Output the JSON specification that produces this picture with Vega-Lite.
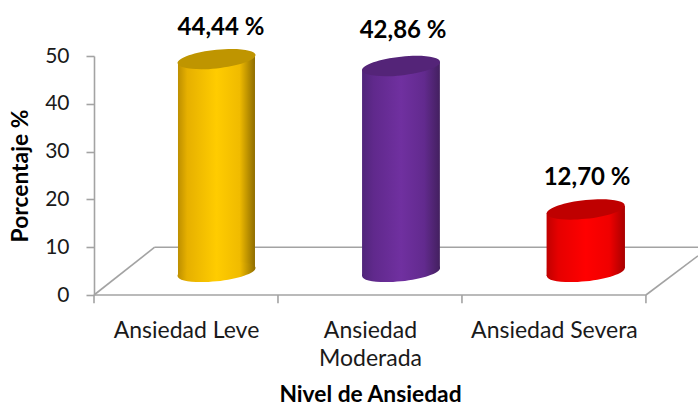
{
"$schema":"https://vega.github.io/schema/vega-lite/v6.json",
"autosize":{"type":"none"},
"padding":{"left":94,"top":56,"right":0,"bottom":111},
"width":604,"height":239,
"background":"white",
"config":{"view":{"stroke":null},"font":"Lato"},
"datasets":{
"suelo":[
{"borde":"frente","px":0,"py":0},{"borde":"frente","px":3,"py":0},
{"borde":"fondo","px":0.33,"py":10},{"borde":"fondo","px":3.283,"py":10},
{"borde":"izquierda","px":0,"py":0},{"borde":"izquierda","px":0.33,"py":10},
{"borde":"derecha","px":3,"py":0},{"borde":"derecha","px":3.283,"py":8.2}],
"marcasx":[{"px":0,"py":0,"py2":-1.7},{"px":1,"py":0,"py2":-1.7},{"px":2,"py":0,"py2":-1.7},{"px":3,"py":0,"py2":-1.7}],
"cuerpo":[
{"nivel":"Ansiedad Leve","px":0.4565,"arriba":48.5,"abajo":4.0},{"nivel":"Ansiedad Leve","px":0.875,"arriba":50.2,"abajo":5.65},
{"nivel":"Ansiedad Moderada","px":1.457,"arriba":47.1,"abajo":4.0},{"nivel":"Ansiedad Moderada","px":1.88,"arriba":48.7,"abajo":5.65},
{"nivel":"Ansiedad Severa","px":2.46,"arriba":17.15,"abajo":4.0},{"nivel":"Ansiedad Severa","px":2.886,"arriba":18.6,"abajo":5.65}],
"tapas":[
{"nivel":"Ansiedad Leve","pc":0.666,"arriba":49.35,"abajo":4.83,"etx":0.69,"ety":55.9,"etiqueta":"44,44 %"},
{"nivel":"Ansiedad Moderada","pc":1.669,"arriba":47.9,"abajo":4.83,"etx":1.68,"ety":55.2,"etiqueta":"42,86 %"},
{"nivel":"Ansiedad Severa","pc":2.673,"arriba":17.9,"abajo":4.83,"etx":2.68,"ety":24.4,"etiqueta":"12,70 %"}]
},
"layer":[
{"data":{"name":"suelo"},
 "mark":{"type":"line","color":"#a3a3a3","strokeWidth":1.6},
 "encoding":{
  "x":{"field":"px","type":"quantitative","scale":{"domain":[0,3.283],"nice":false,"zero":false},
   "axis":{"values":[0.5,1.5,2.5],"grid":false,"domain":false,"ticks":false,"labelFont":"Lato","labelFontSize":23,"labelColor":"#1a1a1a","labelPadding":35,"labelLineHeight":28,"labelBaseline":"middle",
    "labelExpr":"datum.value==1.5?['Ansiedad','Moderada']:(datum.value==0.5?'Ansiedad Leve':'Ansiedad Severa')",
    "title":"Nivel de Ansiedad","titleFont":"Lato","titleFontSize":22.8,"titleFontWeight":"bold","titleColor":"#000000","titleX":276,"titleY":99.5,"titleBaseline":"middle","titleAlign":"center"}},
  "y":{"field":"py","type":"quantitative","scale":{"domain":[0,50],"nice":false},
   "axis":{"values":[0,10,20,30,40,50],"grid":false,"domainColor":"#a3a3a3","domainWidth":1.6,"tickColor":"#a3a3a3","tickWidth":1.6,"tickSize":8,"labelFont":"Lato","labelFontSize":21,"labelColor":"#1a1a1a","labelPadding":17,
    "title":"Porcentaje %","titleFont":"Lato","titleFontSize":22.8,"titleFontWeight":"bold","titleColor":"#000000","titleX":-74,"titleY":119.5,"titleBaseline":"middle","titleAlign":"center"}},
  "detail":{"field":"borde"}}},
{"data":{"name":"marcasx"},"mark":{"type":"rule","color":"#a3a3a3","strokeWidth":1.6},
 "encoding":{"x":{"field":"px","type":"quantitative"},"y":{"field":"py","type":"quantitative"},"y2":{"field":"py2"}}},

{"data":{"name":"cuerpo"},"transform":[{"filter":"datum.nivel=='Ansiedad Leve'"}],
 "mark":{"type":"area","orient":"vertical","fill":{"gradient":"linear","x1":0,"y1":0,"x2":1,"y2":0,"stops":[{"offset":0,"color":"#bd8f00"},{"offset":0.12,"color":"#e6b000"},{"offset":0.5,"color":"#ffcc00"},{"offset":0.8,"color":"#f0bb00"},{"offset":1,"color":"#8f6d00"}]}},
 "encoding":{"x":{"field":"px","type":"quantitative"},"y":{"field":"arriba","type":"quantitative"},"y2":{"field":"abajo"}}},
{"data":{"name":"tapas"},"transform":[{"filter":"datum.nivel=='Ansiedad Leve'"}],
 "mark":{"type":"point","filled":true,"opacity":1,"size":6084,"strokeWidth":0,"shape":"M1,-.103C1,.0296,.5523,.1831,0,.24C-.5523,.2969,-1,.2356,-1,.103C-1,-.0296,-.5523,-.1831,0,-.24C.5523,-.2969,1,-.2356,1,-.103Z","fill":{"gradient":"linear","x1":0,"y1":0,"x2":1,"y2":0,"stops":[{"offset":0,"color":"#bd8f00"},{"offset":0.12,"color":"#e6b000"},{"offset":0.5,"color":"#ffcc00"},{"offset":0.8,"color":"#f0bb00"},{"offset":1,"color":"#8f6d00"}]}},
 "encoding":{"x":{"field":"pc","type":"quantitative"},"y":{"field":"abajo","type":"quantitative"}}},
{"data":{"name":"tapas"},"transform":[{"filter":"datum.nivel=='Ansiedad Leve'"}],
 "mark":{"type":"point","filled":true,"opacity":1,"size":6084,"strokeWidth":0,"color":"#bf9500","shape":"M1,-.103C1,.0296,.5523,.1831,0,.24C-.5523,.2969,-1,.2356,-1,.103C-1,-.0296,-.5523,-.1831,0,-.24C.5523,-.2969,1,-.2356,1,-.103Z"},
 "encoding":{"x":{"field":"pc","type":"quantitative"},"y":{"field":"arriba","type":"quantitative"}}},

{"data":{"name":"cuerpo"},"transform":[{"filter":"datum.nivel=='Ansiedad Moderada'"}],
 "mark":{"type":"area","orient":"vertical","fill":{"gradient":"linear","x1":0,"y1":0,"x2":1,"y2":0,"stops":[{"offset":0,"color":"#50257a"},{"offset":0.15,"color":"#60298c"},{"offset":0.5,"color":"#7030a0"},{"offset":0.8,"color":"#622a8e"},{"offset":1,"color":"#43205f"}]}},
 "encoding":{"x":{"field":"px","type":"quantitative"},"y":{"field":"arriba","type":"quantitative"},"y2":{"field":"abajo"}}},
{"data":{"name":"tapas"},"transform":[{"filter":"datum.nivel=='Ansiedad Moderada'"}],
 "mark":{"type":"point","filled":true,"opacity":1,"size":6084,"strokeWidth":0,"shape":"M1,-.103C1,.0296,.5523,.1831,0,.24C-.5523,.2969,-1,.2356,-1,.103C-1,-.0296,-.5523,-.1831,0,-.24C.5523,-.2969,1,-.2356,1,-.103Z","fill":{"gradient":"linear","x1":0,"y1":0,"x2":1,"y2":0,"stops":[{"offset":0,"color":"#50257a"},{"offset":0.15,"color":"#60298c"},{"offset":0.5,"color":"#7030a0"},{"offset":0.8,"color":"#622a8e"},{"offset":1,"color":"#43205f"}]}},
 "encoding":{"x":{"field":"pc","type":"quantitative"},"y":{"field":"abajo","type":"quantitative"}}},
{"data":{"name":"tapas"},"transform":[{"filter":"datum.nivel=='Ansiedad Moderada'"}],
 "mark":{"type":"point","filled":true,"opacity":1,"size":6084,"strokeWidth":0,"color":"#542478","shape":"M1,-.103C1,.0296,.5523,.1831,0,.24C-.5523,.2969,-1,.2356,-1,.103C-1,-.0296,-.5523,-.1831,0,-.24C.5523,-.2969,1,-.2356,1,-.103Z"},
 "encoding":{"x":{"field":"pc","type":"quantitative"},"y":{"field":"arriba","type":"quantitative"}}},

{"data":{"name":"cuerpo"},"transform":[{"filter":"datum.nivel=='Ansiedad Severa'"}],
 "mark":{"type":"area","orient":"vertical","fill":{"gradient":"linear","x1":0,"y1":0,"x2":1,"y2":0,"stops":[{"offset":0,"color":"#c00000"},{"offset":0.15,"color":"#e60000"},{"offset":0.5,"color":"#ff0000"},{"offset":0.8,"color":"#f00000"},{"offset":1,"color":"#a80000"}]}},
 "encoding":{"x":{"field":"px","type":"quantitative"},"y":{"field":"arriba","type":"quantitative"},"y2":{"field":"abajo"}}},
{"data":{"name":"tapas"},"transform":[{"filter":"datum.nivel=='Ansiedad Severa'"}],
 "mark":{"type":"point","filled":true,"opacity":1,"size":6084,"strokeWidth":0,"shape":"M1,-.103C1,.0296,.5523,.1831,0,.24C-.5523,.2969,-1,.2356,-1,.103C-1,-.0296,-.5523,-.1831,0,-.24C.5523,-.2969,1,-.2356,1,-.103Z","fill":{"gradient":"linear","x1":0,"y1":0,"x2":1,"y2":0,"stops":[{"offset":0,"color":"#c00000"},{"offset":0.15,"color":"#e60000"},{"offset":0.5,"color":"#ff0000"},{"offset":0.8,"color":"#f00000"},{"offset":1,"color":"#a80000"}]}},
 "encoding":{"x":{"field":"pc","type":"quantitative"},"y":{"field":"abajo","type":"quantitative"}}},
{"data":{"name":"tapas"},"transform":[{"filter":"datum.nivel=='Ansiedad Severa'"}],
 "mark":{"type":"point","filled":true,"opacity":1,"size":6084,"strokeWidth":0,"color":"#bf0000","shape":"M1,-.103C1,.0296,.5523,.1831,0,.24C-.5523,.2969,-1,.2356,-1,.103C-1,-.0296,-.5523,-.1831,0,-.24C.5523,-.2969,1,-.2356,1,-.103Z"},
 "encoding":{"x":{"field":"pc","type":"quantitative"},"y":{"field":"arriba","type":"quantitative"}}},

{"data":{"name":"tapas"},
 "mark":{"type":"text","font":"Lato","fontSize":24,"fontWeight":"bold","color":"#000000","align":"center","baseline":"middle"},
 "encoding":{"x":{"field":"etx","type":"quantitative"},"y":{"field":"ety","type":"quantitative"},"text":{"field":"etiqueta"}}}
]
}
